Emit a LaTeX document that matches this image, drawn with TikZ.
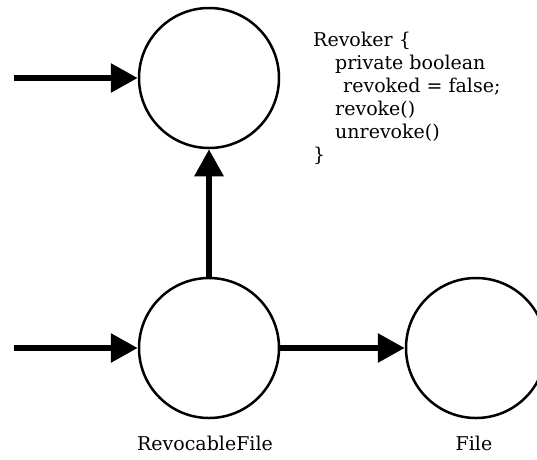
\documentclass[tikz,border=0pt]{standalone}
\usepackage{fontspec}
\setmainfont{DejaVu Serif}
\usetikzlibrary{arrows.meta}

\begin{document}
\begin{tikzpicture}[x=1pt,y=1pt,
    state/.style={draw, circle, line width=2.5pt, minimum size=140pt, inner sep=0pt},
    flow/.style={line width=6pt, -{Triangle[length=27pt,width=28pt]}},
    label text/.style={font=\fontsize{19}{23}\selectfont}]
    \useasboundingbox (0,0) rectangle (537,-459);

    % Draw the states
    \node[state] (revoker) at (209,-78) {};
    \node[state] (revocable) at (209,-348) {};
    \node[state] (file) at (476,-348) {};

    % Free ends of the incoming arrows
    \coordinate (inTop) at (14,-78);
    \coordinate (inBottom) at (14,-348);

    % Draw arrows
    \draw[flow] (inTop) -- (revoker.west);
    \draw[flow] (inBottom) -- (revocable.west);
    \draw[flow] (revocable.north) -- (revoker.south);
    \draw[flow] (revocable.east) -- (file.west);

    % Names under the states
    \node[label text, anchor=base] (revocableName) at (205,-450) {RevocableFile};
    \node[label text, anchor=base] (fileName) at (474,-450) {File};

    % Class body next to the revoker (base = last line)
    \node[label text, anchor=base west, align=left, inner sep=0pt] (revokerBody) at (313,-161)
        {Revoker \{\\
         \hspace*{22pt}private boolean\\
         \hspace*{30pt}revoked = false;\\
         \hspace*{22pt}revoke()\\
         \hspace*{22pt}unrevoke()\\
         \}};
\end{tikzpicture}
\end{document}
